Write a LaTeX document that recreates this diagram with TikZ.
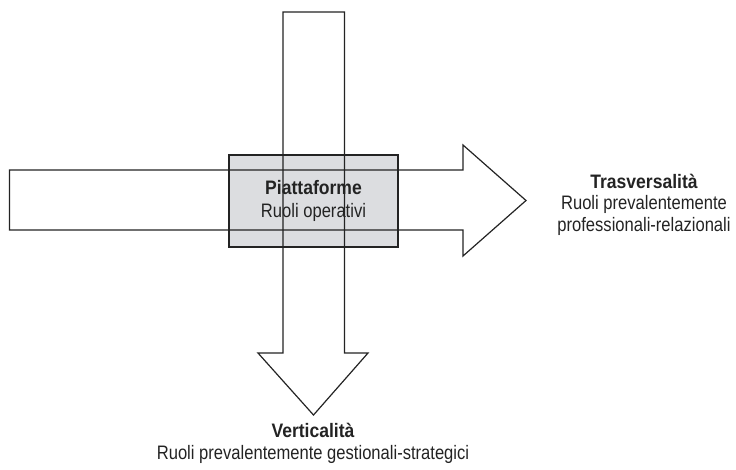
\documentclass[tikz,border=0pt]{standalone}
\usepackage{fontspec}
\setmainfont[FakeStretch=0.85,BoldFeatures={FakeStretch=0.9}]{Liberation Sans}
\usetikzlibrary{positioning}
\definecolor{boxgray}{RGB}{220,221,224}
\definecolor{linegray}{RGB}{35,35,35}
\tikzset{
  outline/.style={draw=linegray, line width=1.2pt, line join=miter},
  centrebox/.style={draw=linegray, line width=1.2pt, fill=boxgray, minimum width=169pt, minimum height=92pt, align=center, inner sep=0pt},
  caption/.style={align=center, inner sep=0pt, anchor=base}
}
\begin{document}
\begin{tikzpicture}[x=1pt, y=-1pt, every node/.style={font=\fontsize{19.5}{21.5}\selectfont, text=linegray}]
  \useasboundingbox (0,0) rectangle (736,469);
  \node[centrebox] (piatt) at (313.5,201) {\textbf{Piattaforme}\\[1.5pt]Ruoli operativi};
  % freccia orizzontale
  \draw[outline] (9.5,170) -- (463,170) -- (463,145) -- (526,200.5) -- (463,256) -- (463,230) -- (9.5,230) -- cycle;
  % freccia verticale
  \draw[outline] (283,12) -- (344.5,12) -- (344.5,353) -- (368,353) -- (313.5,415) -- (258,353) -- (283,353) -- cycle;
  \node[caption] (trasv) at (644,231) {\textbf{Trasversalità}\\Ruoli prevalentemente\\professionali-relazionali};
  \node[caption] (vert) at (313,459) {\textbf{Verticalità}\\Ruoli prevalentemente gestionali-strategici};
\end{tikzpicture}
\end{document}
